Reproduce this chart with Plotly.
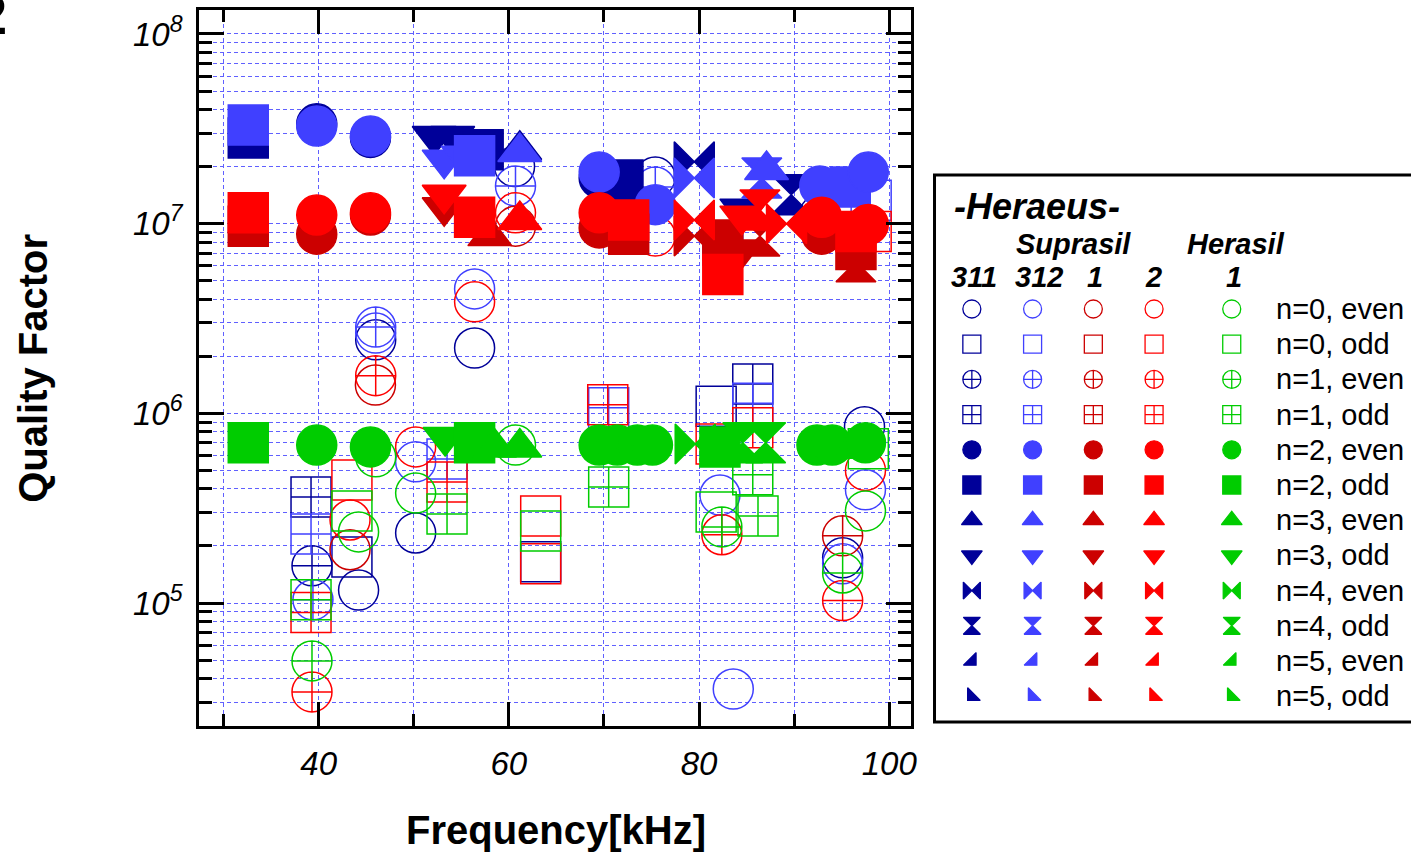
import plotly.graph_objects as go

W, H = 1411, 853

# ---------------- data ----------------
mode_labels = ["n=0, even", "n=0, odd", "n=1, even", "n=1, odd", "n=2, even", "n=2, odd",
               "n=3, even", "n=3, odd", "n=4, even", "n=4, odd", "n=5, even", "n=5, odd"]
material_headers = ["311", "312", "1", "2", "1"]

# Suprasil 311  (frequency kHz, Q, mode index)
s311_f = [32.6, 39.8, 45.45, 52.15, 54.1, 57.3, 60.6, 61.15, 69.5, 72.0, 75.4, 79.5, 84.5, 89.7, 92.7,
          39.2, 39.3, 43.5, 44.2, 46.0, 50.2, 56.4, 63.35, 81.8, 85.65, 95.1, 97.4]
s311_q = [2.83e7, 3.36e7, 2.85e7, 2.9e7, 2.9e7, 2.45e7, 2.0e7, 2.45e7, 1.74e7, 1.7e7, 1.76e7, 2.12e7, 1.2e7, 1.42e7, 1.12e7,
          3.62e5, 1.57e5, 1.75e5, 1.17e5, 2.44e6, 2.34e5, 2.21e6, 1.65e5, 1.09e6, 1.43e6, 1.73e5, 8.5e5]
s311_m = [5, 4, 4, 7, 7, 5, 0, 6, 4, 5, 0, 8, 7, 9, 0,
          3, 2, 1, 0, 0, 0, 0, 1, 1, 3, 0, 0]

# Suprasil 312
s312_f = [32.6, 39.8, 45.45, 53.2, 55.2, 56.4, 61.15, 60.7, 69.5, 75.4, 75.4, 79.5, 82.5, 86.6, 87.1, 92.7, 95.9, 97.8, 98.1,
          39.2, 39.4, 46.0, 46.0, 50.2, 53.5, 56.4, 70.5, 82.2, 83.6, 85.65, 95.1, 97.5]
s312_q = [3.31e7, 3.27e7, 2.9e7, 2.17e7, 2.28e7, 2.28e7, 2.39e7, 1.58e7, 1.87e7, 1.56e7, 1.26e7, 1.74e7, 7.7e6, 1.74e7, 1.92e7, 1.58e7, 1.56e7, 1.87e7, 1.33e7,
          2.31e5, 1.04e5, 2.85e6, 2.65e6, 5.55e5, 5.75e5, 4.53e6, 1.07e6, 3.71e5, 3.52e4, 1.13e6, 1.61e5, 3.95e5]
s312_m = [5, 4, 4, 7, 7, 5, 6, 2, 4, 2, 4, 8, 5, 9, 6, 4, 5, 4, 1,
          3, 2, 2, 0, 0, 3, 0, 3, 0, 0, 3, 0, 0]

# Suprasil 1
sup1_f = [32.6, 39.8, 45.45, 53.2, 58.0, 60.7, 69.5, 72.6, 79.5, 82.5, 84.5, 86.4, 92.9, 96.5, 96.5,
          45.97, 95.1, 43.3]
sup1_q = [9.7e6, 8.8e6, 1.11e7, 1.22e7, 8.6e6, 9.7e6, 9.5e6, 8.8e6, 8.6e6, 8.2e6, 7.3e6, 8.6e6, 8.8e6, 7.3e6, 6.3e6,
          1.41e6, 2.26e5, 1.91e5]
sup1_m = [5, 4, 4, 7, 6, 0, 4, 5, 8, 5, 7, 9, 4, 5, 9,
          0, 2, 0]

# Suprasil 2
sup2_f = [32.6, 39.8, 45.45, 53.2, 56.4, 60.7, 61.15, 69.5, 72.6, 75.4, 79.5, 82.5, 84.5, 86.4, 89.2, 92.9, 96.5, 97.8, 98.1,
          39.3, 39.2, 43.5, 43.3, 46.0, 50.2, 53.5, 56.4, 63.35, 63.35, 70.4, 81.8, 82.4, 85.65, 95.1, 97.5]
sup2_q = [1.14e7, 1.11e7, 1.14e7, 1.42e7, 1.08e7, 1.14e7, 1.045e7, 1.14e7, 1.045e7, 8.6e6, 1.045e7, 5.4e6, 1.1e7, 1.18e7, 1.0e7, 1.08e7, 9.1e6, 9.9e6, 9.1e6,
          3.4e4, 8.9e4, 4.45e5, 2.74e5, 1.58e6, 6.65e5, 4.35e5, 3.87e6, 2.88e5, 1.61e5, 1.11e6, 6.9e5, 2.29e5, 8.4e5, 1.03e5, 5.0e5]
sup2_m = [5, 4, 4, 7, 5, 0, 6, 4, 5, 0, 8, 5, 7, 9, 8, 4, 5, 4, 1,
          2, 3, 1, 0, 2, 0, 3, 0, 1, 1, 3, 1, 2, 3, 2, 0]

# Herasil 1
her1_f = [32.6, 39.8, 45.45, 53.3, 55.5, 56.4, 58.5, 60.7, 61.15, 69.5, 71.4, 73.5, 75.1, 79.6, 82.2, 84.6, 87.0, 92.4, 94.0, 96.3, 97.5, 97.8,
          39.3, 39.2, 43.5, 44.2, 46.0, 50.2, 53.5, 63.35, 70.5, 81.8, 82.4, 85.65, 86.2, 95.1, 97.5]
her1_q = [6.99e5, 6.8e5, 6.65e5, 7.5e5, 7.2e5, 6.99e5, 6.6e5, 6.8e5, 6.6e5, 6.8e5, 6.8e5, 6.8e5, 6.8e5, 6.9e5, 6.65e5, 7.0e5, 7.0e5, 6.8e5, 6.8e5, 6.5e5, 7.0e5, 6.5e5,
          4.95e4, 1.04e5, 3.06e5, 2.37e5, 5.9e5, 3.8e5, 2.95e5, 2.4e5, 4.09e5, 3.02e5, 2.52e5, 4.74e5, 2.88e5, 1.44e5, 3.06e5]
her1_m = [5, 4, 4, 7, 7, 5, 6, 0, 6, 4, 4, 4, 4, 8, 5, 9, 9, 4, 4, 6, 4, 1,
          2, 3, 1, 0, 0, 0, 3, 1, 3, 1, 2, 3, 3, 2, 0]

# axis ticks
x_label_ticks = [40, 60, 80, 100]
x_all_ticks = [30, 40, 50, 60, 70, 80, 90, 100]
y_decades = [1e5, 1e6, 1e7, 1e8]
y_decade_exps = [5, 6, 7, 8]

# ---------------- styles ----------------
colors = ["#000099", "#4040ff", "#cc0000", "#ff0000", "#00cc00"]
symbols = ["circle-open", "square-open", "circle-cross-open", "square-cross-open", "circle", "square",
           "triangle-up", "triangle-down", "bowtie", "hourglass", "triangle-se", "triangle-sw"]
plot_sizes = [40, 40, 40, 40, 40, 40, 38, 38, 40, 40, 36, 36]
legend_sizes = [18, 18, 18, 18, 18, 18, 18, 18, 17, 17, 14, 14]
grid_c = "#6060ff"
grid_dash = "4px,3px"
FONT = "Liberation Sans, Arial, Helvetica, sans-serif"


def px(x):
    return x / W


def py(y):
    return 1 - y / H


materials = [(s311_f, s311_q, s311_m), (s312_f, s312_q, s312_m), (sup1_f, sup1_q, sup1_m),
             (sup2_f, sup2_q, sup2_m), (her1_f, her1_q, her1_m)]

fig = go.Figure()
for open_pass in (True, False):
    for (f, q, m), c in zip(materials, colors):
        idx = [k for k in range(len(f)) if (m[k] < 4) == open_pass]
        fig.add_trace(go.Scatter(
            x=[f[k] for k in idx], y=[q[k] for k in idx], mode="markers",
            marker=dict(symbol=[symbols[m[k]] for k in idx], size=[plot_sizes[m[k]] for k in idx],
                        color=c, opacity=1, line=dict(color=c, width=1.5)),
            showlegend=False, hoverinfo="skip", xaxis="x", yaxis="y"))

# empty traces that carry the long (major) tick overlay axes
fig.add_trace(go.Scatter(x=[None], y=[None], xaxis="x", yaxis="y3", showlegend=False, hoverinfo="skip"))
fig.add_trace(go.Scatter(x=[None], y=[None], xaxis="x3", yaxis="y", showlegend=False, hoverinfo="skip"))

# ---------------- legend (drawn on a pixel-space overlay axis) ----------------
leg_cols = [976, 1037, 1098, 1159, 1237]
leg_row0, leg_dy = 309, 35.2
leg_rows = [leg_row0 + leg_dy * j for j in range(len(mode_labels))]
lx, ly, lsym, lsize, lcol = [], [], [], [], []
for i, c in enumerate(colors):
    for j in range(len(mode_labels)):
        lx.append(leg_cols[i]); ly.append(leg_rows[j]); lsym.append(symbols[j])
        lsize.append(legend_sizes[j]); lcol.append(c)
fig.add_trace(go.Scatter(x=lx, y=ly, mode="markers", xaxis="x2", yaxis="y2",
                         marker=dict(symbol=lsym, size=lsize, color=lcol, opacity=1,
                                     line=dict(color=lcol, width=1.3)),
                         showlegend=False, hoverinfo="skip", cliponaxis=False))

ann = []
ann.append(dict(text="<b><i>-Heraeus-</i></b>", x=px(956), y=py(206), xanchor="left", yanchor="middle",
                font=dict(size=36)))
ann.append(dict(text="<b><i>Suprasil</i></b>", x=px(1078), y=py(244), xanchor="center", yanchor="middle",
                font=dict(size=29)))
ann.append(dict(text="<b><i>Herasil</i></b>", x=px(1241), y=py(244), xanchor="center", yanchor="middle",
                font=dict(size=29)))
hdr_x = [978, 1043, 1100, 1158, 1239]
for hx, t in zip(hdr_x, material_headers):
    ann.append(dict(text="<b><i>%s</i></b>" % t, x=px(hx), y=py(277), xanchor="center", yanchor="middle",
                    font=dict(size=29)))
for yy, t in zip(leg_rows, mode_labels):
    ann.append(dict(text=t, x=px(1279), y=py(yy), xanchor="left", yanchor="middle", font=dict(size=29)))

ann.append(dict(text="<b>Quality Factor</b>", x=px(33), y=py(368), textangle=-90, xanchor="center",
                yanchor="middle", font=dict(size=40)))
ann.append(dict(text="<b>Frequency[kHz]</b>", x=px(558), y=py(830), xanchor="center", yanchor="middle",
                font=dict(size=40)))
ann.append(dict(text="<b>2</b>", x=px(9), y=py(15), xanchor="right", yanchor="middle", font=dict(size=56)))
for a in ann:
    a.update(xref="paper", yref="paper", showarrow=False)
    a["font"].update(family=FONT, color="black")

y_all = sorted(y_decades + [k * 10 ** e for e in (4, 5, 6, 7) for k in range(2, 10)])
y_all_text = ["<i>10<sup>%d</sup></i>" % y_decade_exps[y_decades.index(v)] if v in y_decades else ""
              for v in y_all]
x_all_text = ["<i>%d</i>" % v if v in x_label_ticks else "" for v in x_all_ticks]

XR = [27.435, 102.30]
YR = [4.3516, 8.1265]
XD = [px(200), px(915)]
YD = [py(726), py(10)]

fig.update_layout(
    width=W, height=H, margin=dict(l=0, r=0, t=0, b=0),
    paper_bgcolor="white", plot_bgcolor="rgba(0,0,0,0)",
    font=dict(family=FONT, color="black"),
    annotations=ann,
    shapes=[dict(type="rect", xref="paper", yref="paper", x0=px(938.5), x1=px(1430), y0=py(722), y1=py(175),
                 line=dict(color="black", width=3))],
    xaxis=dict(domain=XD, range=XR, anchor="y",
               tickmode="array", tickvals=x_all_ticks, ticktext=x_all_text,
               ticks="inside", ticklen=12, tickwidth=3, tickcolor="black",
               showline=True, linewidth=3, linecolor="black", mirror="ticks",
               showgrid=True, gridcolor=grid_c, griddash=grid_dash, gridwidth=1, zeroline=False,
               tickfont=dict(size=33), ticklabelstandoff=6),
    xaxis3=dict(domain=XD, range=XR, overlaying="x", anchor="y", side="bottom",
                tickmode="array", tickvals=x_label_ticks, showticklabels=False,
                ticks="inside", ticklen=24, tickwidth=3, tickcolor="black",
                showline=False, mirror="ticks", showgrid=False, zeroline=False),
    yaxis=dict(type="log", domain=YD, range=YR, anchor="x",
               tickmode="array", tickvals=y_all, ticktext=y_all_text,
               ticks="inside", ticklen=13, tickwidth=3, tickcolor="black",
               showline=True, linewidth=3, linecolor="black", mirror="ticks",
               showgrid=True, gridcolor=grid_c, griddash=grid_dash, gridwidth=1, zeroline=False,
               tickfont=dict(size=33), ticklabelstandoff=7),
    yaxis3=dict(type="log", domain=YD, range=YR, overlaying="y", anchor="x", side="left",
                tickmode="array", tickvals=y_decades, showticklabels=False,
                ticks="inside", ticklen=25, tickwidth=3, tickcolor="black",
                showline=False, mirror="ticks", showgrid=False, zeroline=False),
    xaxis2=dict(domain=[0, 1], range=[0, W], visible=False, fixedrange=True, anchor="y2"),
    yaxis2=dict(domain=[0, 1], range=[H, 0], visible=False, fixedrange=True, anchor="x2"),
)

fig.write_html("out.html", config={"displayModeBar": False},
               post_script="document.body.style.margin='0px';")
